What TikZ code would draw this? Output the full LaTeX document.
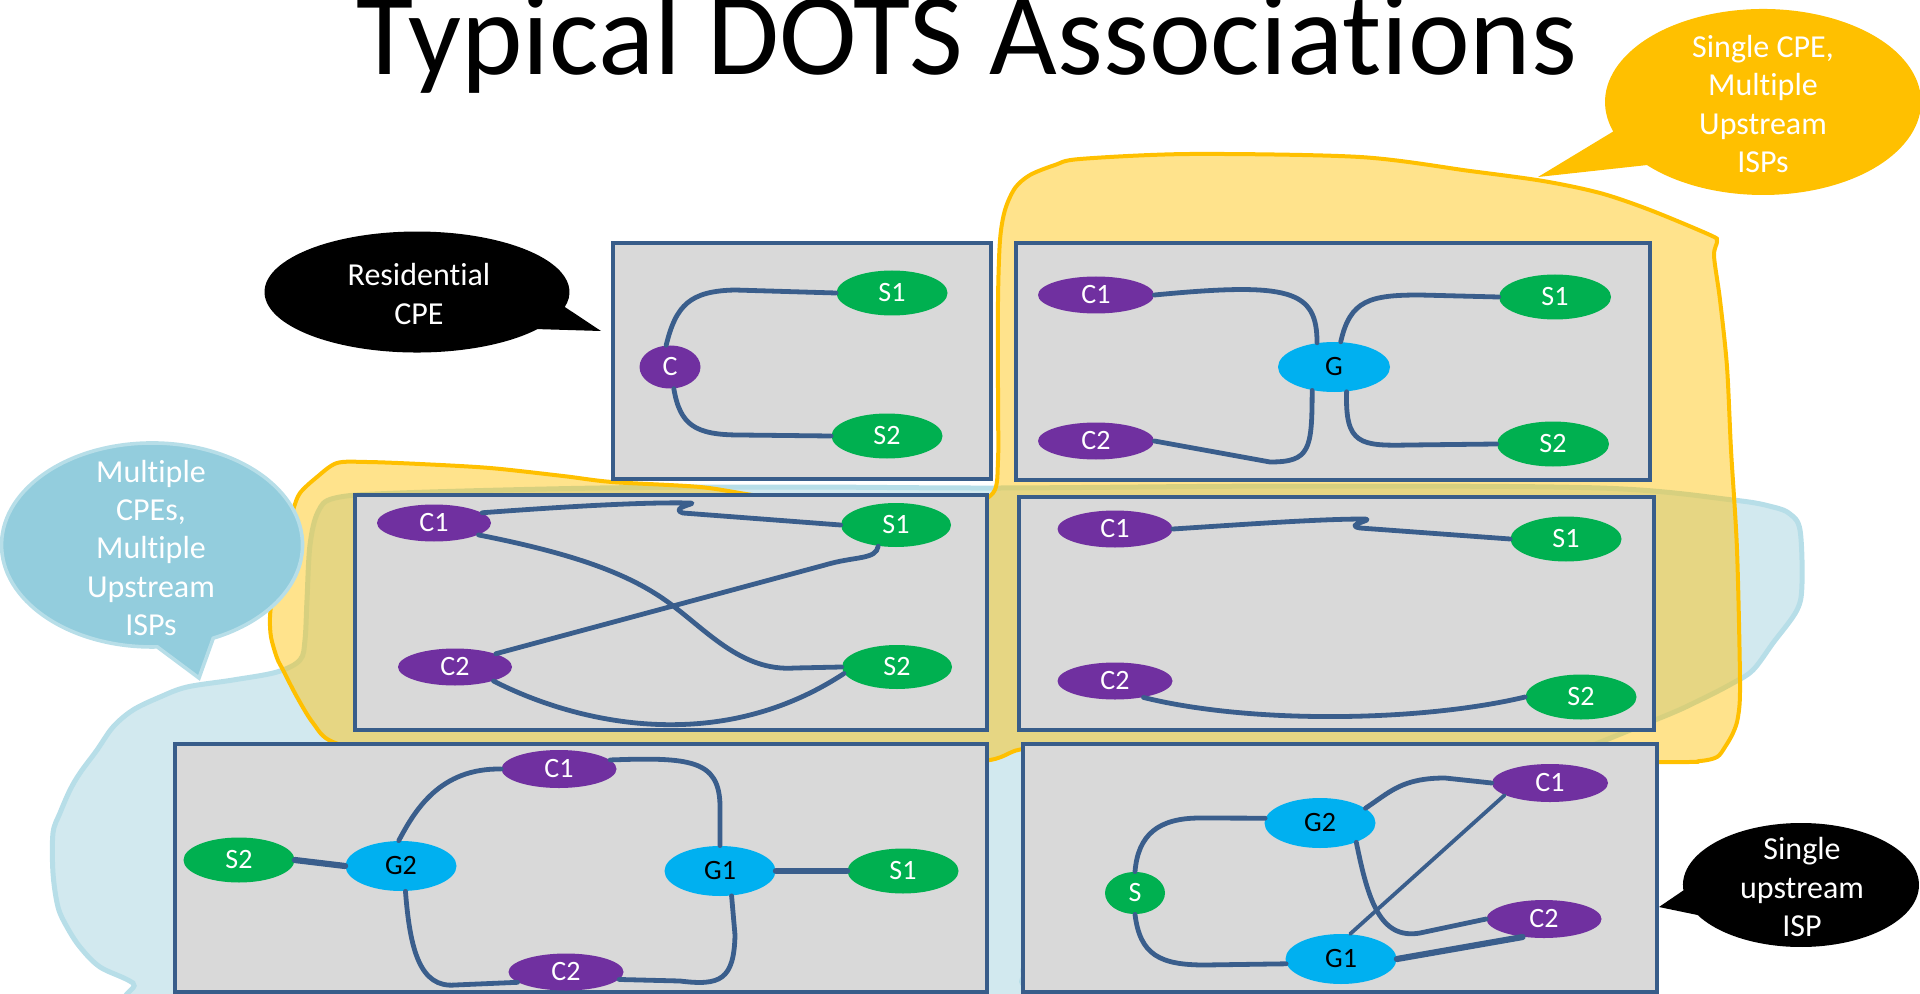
\documentclass[tikz,border=0pt]{standalone}
\usepackage{fontspec}
\setmainfont{Carlito}[Ligatures={NoCommon,NoRare,NoContextual}]
\usetikzlibrary{shapes.geometric}
\definecolor{boxfill}{HTML}{D9D9D9}
\definecolor{boxline}{HTML}{385D8A}
\definecolor{edgec}{HTML}{3A5E8C}
\definecolor{cpurple}{HTML}{7030A0}
\definecolor{sgreen}{HTML}{00B050}
\definecolor{gcyan}{HTML}{00B0F0}
\definecolor{ylw}{HTML}{FFC000}
\definecolor{bluefill}{HTML}{D2E9EF}
\definecolor{blueline}{HTML}{B7DEE8}
\definecolor{calloutblue}{HTML}{93CDDD}
\begin{document}
\begin{tikzpicture}[x=0.5pt,y=-0.5pt,
 boxst/.style={draw=boxline,fill=boxfill,line width=2pt},
 link/.style={draw=edgec,line width=2.4pt,line cap=round,line join=round},
 thick link/.style={link,line width=3.1pt},
 thin link/.style={link,line width=1.9pt},
 nd/.style={ellipse,inner sep=0pt,font=\fontsize{14}{16.8}\selectfont},
 cn/.style={nd,fill=cpurple,text=white,minimum width=57.5pt,minimum height=18.5pt},
 sn/.style={nd,fill=sgreen,text=white,minimum width=55.5pt,minimum height=22.5pt},
 gn/.style={nd,fill=gcyan,text=black,minimum width=55.5pt,minimum height=25pt},
 calltext/.style={align=center,text=white,font=\fontsize{16}{19.2}\selectfont,inner sep=0pt},
]
\useasboundingbox (0,0) rectangle (1920,994);

% blue blob
\draw[fill=bluefill,draw=blueline,line width=2.5pt] plot[smooth cycle,tension=0.55] coordinates {
 (163,1010) (133,983) (100,967) (80,947) (67,927) (58,907) (53,873) (53,833) (60,813) (70,790)
 (80,773) (97,750) (113,727) (133,710) (160,697) (187,687) (233,680) (277,672) (300,660) (305,640)
 (307,600) (310,545) (318,512) (335,498) (400,493) (600,488) (800,487) (1000,488) (1300,486) (1600,488)
 (1733,500) (1773,507) (1790,514) (1800,530) (1802,583) (1797,610) (1773,643) (1753,670) (1733,683)
 (1700,700) (1655,720) (1500,780) (1200,880) (1040,955) (1022,980) (1005,1010) (600,1020)};

% yellow blob
\draw[fill=ylw,fill opacity=0.45,draw=ylw,line width=2pt] plot[smooth cycle,tension=0.5] coordinates {
 (337,463) (367,462) (420,464) (490,468) (563,476) (612,482) (700,487) (760,496) (850,505) (960,505)
 (993,493) (998,460) (998,400) (998,300) (1000,240) (1005,210) (1015,188) (1030,175) (1055,165) (1080,159)
 (1190,154) (1360,157) (1470,171) (1543,181) (1600,193) (1650,210) (1710,235) (1717,241) (1714,256)
 (1720,300) (1727,367) (1731,450) (1737,550) (1740,683) (1738,717) (1733,733) (1725,747) (1717,757)
 (1700,761) (1660,762) (1300,760) (1100,755) (1025,749) (990,760) (900,770) (600,768) (400,758)
 (333,742) (313,723) (297,697) (283,670) (277,658) (271,637) (270,617) (273,590) (280,550) (293,510)
 (300,493) (317,477)};

% boxes
\draw[boxst] (613,243) rectangle (991,479);
\draw[boxst] (1016,243) rectangle (1650,480);
\draw[boxst] (355,495) rectangle (987,730);
\draw[boxst] (1019,497) rectangle (1654,730);
\draw[boxst] (175,744) rectangle (987,992);
\draw[boxst] (1023,744) rectangle (1657,992);

% box 1
\node[cn,minimum width=30.5pt,minimum height=21.5pt] (b1C) at (670,367) {C};
\node[sn] (b1S1) at (892,293) {S1};
\node[sn] (b1S2) at (887,436) {S2};
\path[link] (b1C.100) .. controls (676,305) and (690,291) .. (735,290) -- (b1S1.west);
\path[link] (b1C.-80) .. controls (680,425) and (695,435) .. (740,435) -- (b1S2.west);

% box 2
\node[cn,minimum width=58pt] (b2C1) at (1096,295) {C1};
\node[cn,minimum width=58pt] (b2C2) at (1096,441) {C2};
\node[gn,minimum width=56pt] (b2G) at (1334,367) {G};
\node[sn,minimum width=56pt] (b2S1) at (1555,297) {S1};
\node[sn,minimum width=56pt] (b2S2) at (1553,444) {S2};
\path[link] (b2C1.east) .. controls (1290,282) and (1317,290) .. (b2G.125);
\path[link] (b2G.75) .. controls (1350,300) and (1370,295) .. (1420,295) -- (b2S1.west);
\path[link] (b2G.-133) .. controls (1312,450) and (1310,462) .. (1270,462) -- (b2C2.east);
\path[link] (b2G.-63) .. controls (1345,445) and (1360,446) .. (1410,445) -- (b2S2.west);

% box 3
\node[cn,minimum width=57pt] (b3C1) at (434,523) {C1};
\node[cn,minimum width=57pt] (b3C2) at (455,667) {C2};
\node[sn,minimum width=55pt,minimum height=22pt] (b3S1) at (896,525) {S1};
\node[sn,minimum width=55pt,minimum height=22pt] (b3S2) at (897,667) {S2};
\path[link] (b3C1.12) .. controls (560,507) and (640,502) .. (690,503) .. controls (700,503) and (668,508) .. (683,513) -- (b3S1.west);
\path[link] (b3C1.-15) .. controls (570,553) and (625,572) .. (665,600) .. controls (705,628) and (740,672) .. (795,668) -- (b3S2.west);
\path[link] (b3C2.18) -- (825,565) .. controls (855,556) and (876,560) .. (b3S1.-130);
\path[link] (b3C2.-20) .. controls (580,725) and (720,755) .. (b3S2.-173);

% box 4
\node[cn] (b4C1) at (1115,529) {C1};
\node[sn] (b4S1) at (1566,539) {S1};
\node[cn] (b4C2) at (1115,681) {C2};
\node[sn] (b4S2) at (1581,697) {S2};
\path[link] (b4C1.east) .. controls (1250,524) and (1320,519) .. (1365,519) .. controls (1375,520) and (1343,525) .. (1360,528) -- (b4S1.west);
\path[link] (b4C2.-30) .. controls (1250,724) and (1420,722) .. (b4S2.west);

% box 5
\node[sn] (b5S2) at (239,860) {S2};
\node[gn] (b5G2) at (401,866) {G2};
\node[cn,minimum height=19pt] (b5C1) at (559,769) {C1};
\node[cn] (b5C2) at (566,972) {C2};
\node[gn] (b5G1) at (720,871) {G1};
\node[sn] (b5S1) at (903,871) {S1};
\path[thick link] (b5S2.east) -- (b5G2.west);
\path[link] (b5G2.95) .. controls (415,810) and (440,768) .. (b5C1.west);
\path[link] (b5C1.10) .. controls (690,757) and (719,760) .. (720,805) -- (b5G1.north);
\path[thick link] (b5G1.east) -- (b5S1.west);
\path[link] (b5G1.-65) -- (735,935) .. controls (734,980) and (720,986) .. (680,981) -- (b5C2.-8);
\path[link] (b5G2.-80) .. controls (410,950) and (420,988) .. (455,985) -- (b5C2.-168);

% box 6
\node[sn,minimum width=30pt,minimum height=21pt] (b6S) at (1135,893) {S};
\node[gn] (b6G2) at (1320,823) {G2};
\node[cn,minimum width=58pt,minimum height=19pt] (b6C1) at (1550,783) {C1};
\node[cn,minimum height=19pt] (b6C2) at (1544,919) {C2};
\node[gn] (b6G1) at (1341,959) {G1};
\path[link] (b6S.north) .. controls (1138,835) and (1158,818) .. (1200,818) -- (b6G2.175);
\path[link] (b6S.south) .. controls (1140,955) and (1160,965) .. (1205,965) -- (b6G1.-175);
\path[link] (b6G2.18) .. controls (1390,792) and (1402,778) .. (1445,778) -- (b6C1.west);
\path[link] (b6G2.-28) .. controls (1368,900) and (1380,940) .. (1420,933) -- (b6C2.west);
\path[thin link] (b6G1.70) -- (b6C1.-165);
\path[thick link] (b6G1.east) -- (b6C2.-140);

% callouts
\fill[black] (537.5,329.1) arc[start angle=37.8,end angle=374.3,x radius=152.5,y radius=60.5] -- (601,331) -- cycle;
\node[calltext] (tres) at (419,294) {Residential\\CPE};

\fill[black] (1683.4,890.4) arc[start angle=175,end angle=511,x radius=118,y radius=62] -- (1659,907) -- cycle;
\node[calltext] (tisp) at (1802,887) {Single\\upstream\\ISP};

\fill[ylw] (1613.2,131.5) arc[start angle=161.5,end angle=497.3,x radius=158,y radius=93] -- (1538,177) -- cycle;
\node[calltext] (tsingle) at (1763,104) {Single CPE,\\Multiple\\Upstream\\ISPs};

\path[fill=calloutblue,draw=blueline,line width=1.8pt] (157.3,646.9) arc[start angle=88,end angle=426,x radius=150.5,y radius=102] -- (199,678) -- cycle;
\node[calltext] (tmulti) at (151,548) {Multiple\\CPEs,\\Multiple\\Upstream\\ISPs};

% title
\node[anchor=base,inner sep=0pt,font=\fontsize{58.5}{62}\selectfont] (title) at (967,75) {Typical DOTS Associations};
\end{tikzpicture}
\end{document}
